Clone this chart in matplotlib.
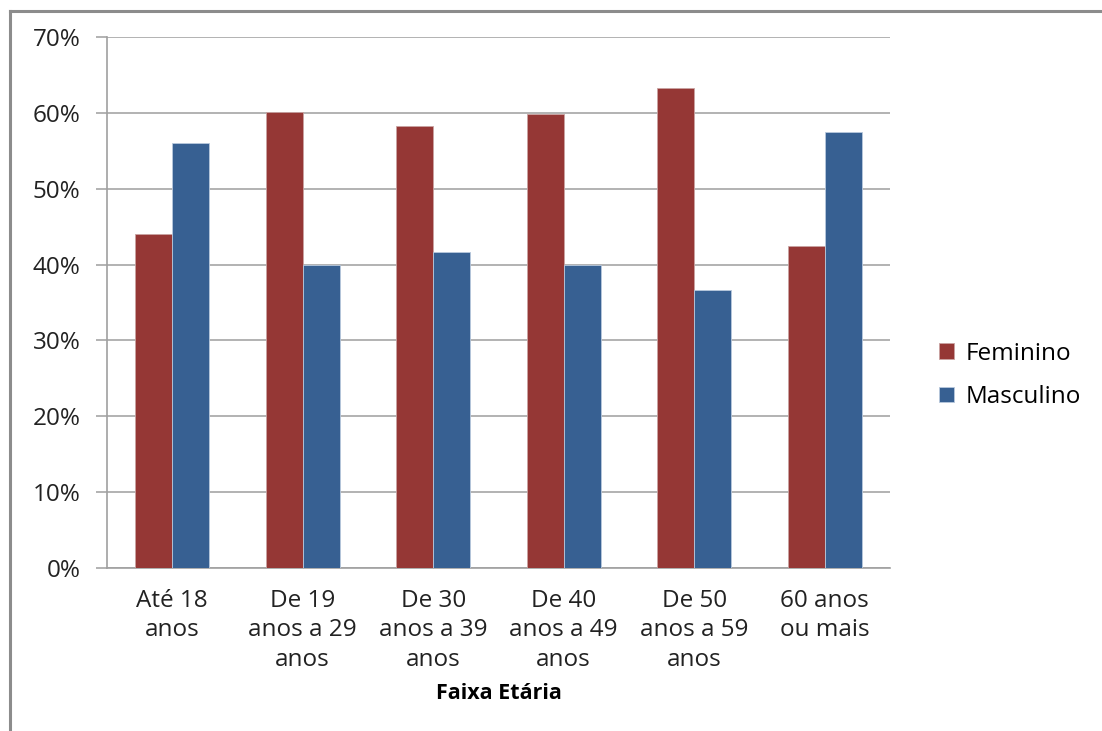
import numpy as np
import matplotlib.pyplot as plt
from matplotlib.lines import Line2D
from matplotlib.ticker import FuncFormatter

categorias = ['Até 18\nanos', 'De 19\nanos a 29\nanos', 'De 30\nanos a 39\nanos',
              'De 40\nanos a 49\nanos', 'De 50\nanos a 59\nanos', '60 anos\nou mais']
feminino = [44.0, 60.1, 58.3, 59.9, 63.3, 42.4]
masculino = [56.0, 39.9, 41.6, 40.0, 36.7, 57.5]

plt.rcParams['font.family'] = ['Open Sans', 'DejaVu Sans']

fig = plt.figure(figsize=(11.02, 7.31), dpi=100)
ax = fig.add_axes([0.0971, 0.223, 0.7105, 0.7264])

x = np.arange(len(categorias))
w = 0.285
ax.bar(x - w / 2, feminino, w, color='#953735', edgecolor='#c9a3a2', linewidth=0.6,
       label='Feminino', zorder=3)
ax.bar(x + w / 2, masculino, w, color='#376092', edgecolor='#b9c9dd', linewidth=0.6,
       label='Masculino', zorder=3)

ax.set_xlim(-0.5, len(categorias) - 0.5)
ax.set_ylim(0, 70)
ax.set_yticks(np.arange(0, 71, 10))
ax.yaxis.set_major_formatter(FuncFormatter(lambda v, p: f'{v:.0f}%'))
ax.grid(axis='y', color='#a6a6a6', linewidth=1.2, zorder=0)

ax.set_xticks(x)
ax.set_xticklabels(categorias, linespacing=1.3)
ax.tick_params(axis='x', length=0, pad=15, labelsize=17.5, colors='#222222')
ax.tick_params(axis='y', length=8, width=1.2, pad=11, labelsize=17.5, colors='#222222')
ax.tick_params(axis='y', color='#a6a6a6')

for s in ['top', 'right']:
    ax.spines[s].set_visible(False)
for s in ['left', 'bottom']:
    ax.spines[s].set_color('#a0a0a0')
    ax.spines[s].set_linewidth(1.2)

ax.set_xlabel('Faixa Etária', fontsize=15.5, fontweight='bold', labelpad=8)

ax.legend(loc='center left', bbox_to_anchor=(1.035, 0.363), frameon=False,
          fontsize=17.5, handlelength=0.6, handleheight=0.6, handletextpad=0.5,
          labelspacing=0.8)

# moldura externa (cantos superior e esquerdo)
fig.add_artist(Line2D([0.0091, 1.0], [0.985, 0.985], color='#8c8c8c', lw=2.2))
fig.add_artist(Line2D([0.0091, 0.0091], [0.0, 0.985], color='#8c8c8c', lw=2.2))

fig.savefig('out.png', dpi=100)
